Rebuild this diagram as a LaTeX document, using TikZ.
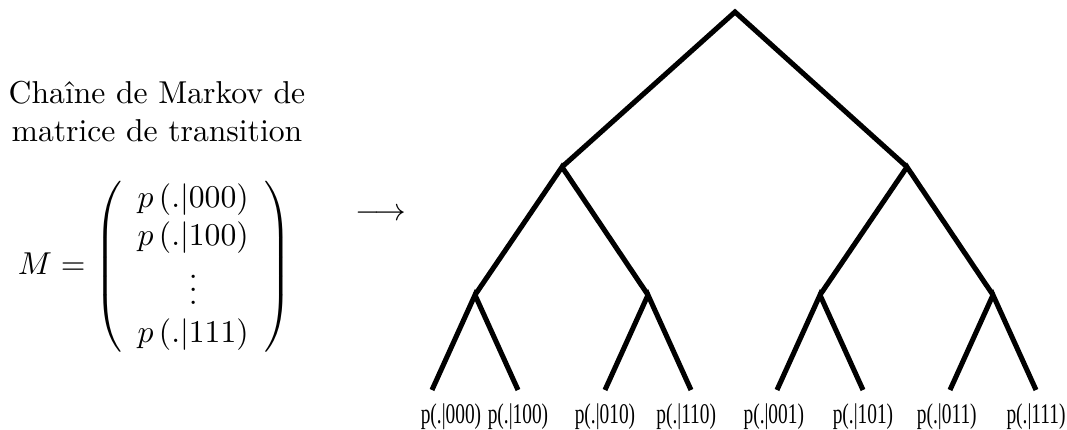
\documentclass[tikz,border=0pt]{standalone}
\usepackage{fontspec}
\usepackage{amsmath}
\usetikzlibrary{positioning}
\newfontfamily\leaffont[FakeStretch=0.68]{Liberation Serif}

\begin{document}
\begin{tikzpicture}[
  x=0.3158pt, y=-0.3158pt,
  every node/.style={inner sep=0pt},
  branche/.style={line width=1.6pt},
  feuille/.style={font={\leaffont\fontsize{9}{10}\selectfont}},
]
  \useasboundingbox (0,0) rectangle (1067,430);

  % texte de gauche
  \node[align=center] (titre) at (157,112) {Chaîne de Markov de\\matrice de transition};
  \node (mat) at (155,267)
    {$M=\left(\begin{array}{c} p\left(.|000\right)\\ p\left(.|100\right)\\ \vdots\\ p\left(.|111\right)\end{array}\right)$};
  \node (fleche) at (381,215) {$\longrightarrow$};

  % arbre
  \coordinate (racine) at (735,12);
  \coordinate (n0)  at (562,167);
  \coordinate (n1)  at (907,167);
  \coordinate (n00) at (475,295);
  \coordinate (n01) at (648,295);
  \coordinate (n10) at (820,295);
  \coordinate (n11) at (993,295);

  \draw[branche] (n0) -- (racine) -- (n1);
  \draw[branche] (n00) -- (n0) -- (n01);
  \draw[branche] (n10) -- (n1) -- (n11);
  \foreach \p/\g/\d in {n00/000/100, n01/010/110, n10/001/101, n11/011/111}
    \draw[branche] (\p) +(-43,95) coordinate (f\g) -- (\p) -- +(43,95) coordinate (f\d);

  % etiquettes des feuilles
  \foreach \f/\dx in {000/6pt, 100/0pt, 010/0pt, 110/-1.5pt, 001/-1pt, 101/0pt, 011/-1pt, 111/0pt}
    \node[feuille, below=4pt of f\f, xshift=\dx] (l\f) {p(.|\f)};
\end{tikzpicture}
\end{document}
